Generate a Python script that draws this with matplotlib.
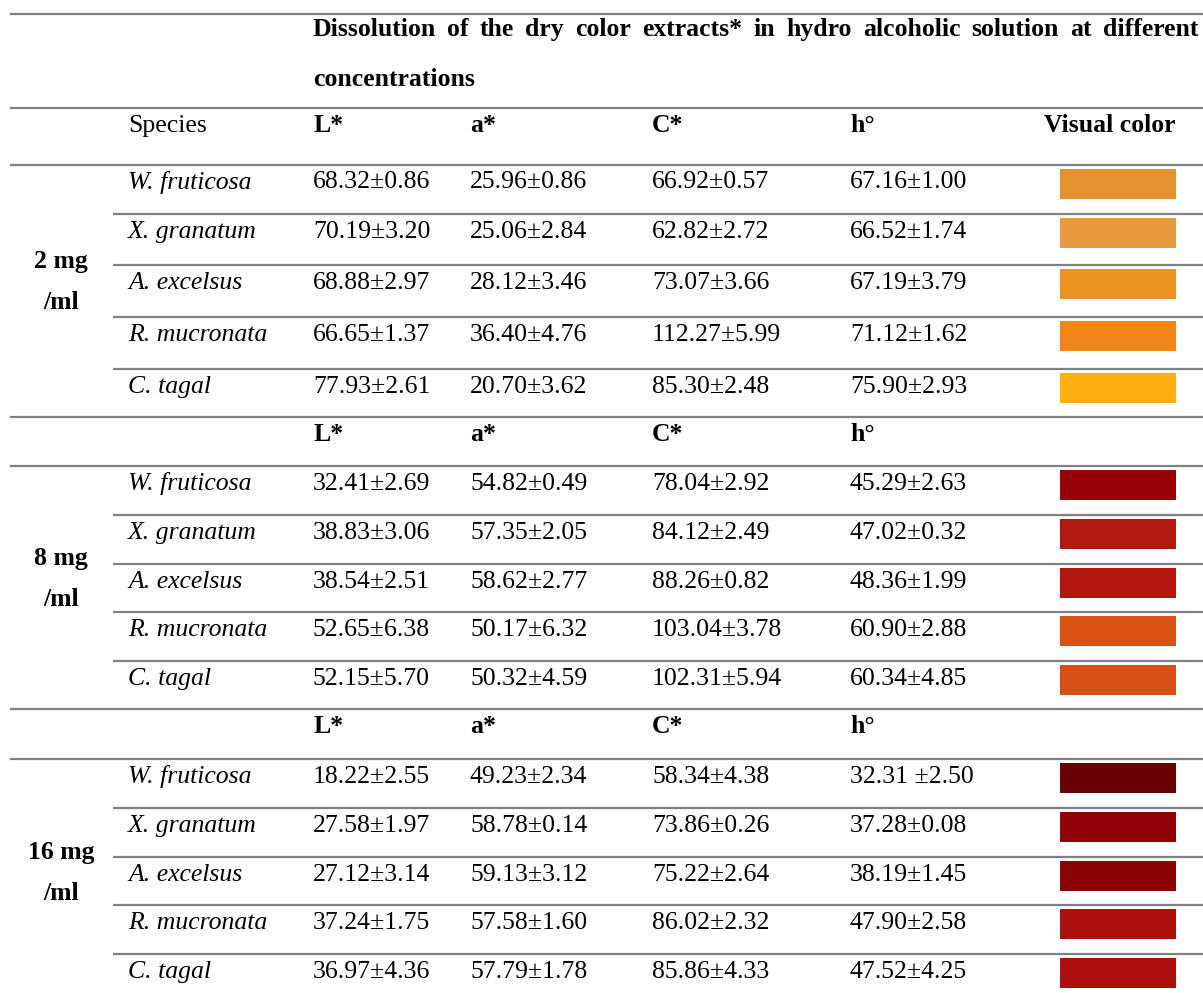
import matplotlib
matplotlib.use("Agg")
import matplotlib.pyplot as plt
from matplotlib.patches import Rectangle

# ---------------- data ----------------
title_line1 = "Dissolution of the dry color extracts* in hydro alcoholic solution at different"
title_line2 = "concentrations"
col_headers = ["L*", "a*", "C*", "h°"]
species = ["W. fruticosa", "X. granatum", "A. excelsus", "R. mucronata", "C. tagal"]
concentrations = ["2 mg\n/ml", "8 mg\n/ml", "16 mg\n/ml"]

L_2 = ["68.32±0.86", "70.19±3.20", "68.88±2.97", "66.65±1.37", "77.93±2.61"]
a_2 = ["25.96±0.86", "25.06±2.84", "28.12±3.46", "36.40±4.76", "20.70±3.62"]
C_2 = ["66.92±0.57", "62.82±2.72", "73.07±3.66", "112.27±5.99", "85.30±2.48"]
h_2 = ["67.16±1.00", "66.52±1.74", "67.19±3.79", "71.12±1.62", "75.90±2.93"]
col_2 = ["#E4922F", "#E89A3D", "#EA9322", "#F28518", "#FEB013"]

L_8 = ["32.41±2.69", "38.83±3.06", "38.54±2.51", "52.65±6.38", "52.15±5.70"]
a_8 = ["54.82±0.49", "57.35±2.05", "58.62±2.77", "50.17±6.32", "50.32±4.59"]
C_8 = ["78.04±2.92", "84.12±2.49", "88.26±0.82", "103.04±3.78", "102.31±5.94"]
h_8 = ["45.29±2.63", "47.02±0.32", "48.36±1.99", "60.90±2.88", "60.34±4.85"]
col_8 = ["#9A020A", "#B11A0E", "#B5160E", "#D95214", "#D54F16"]

L_16 = ["18.22±2.55", "27.58±1.97", "27.12±3.14", "37.24±1.75", "36.97±4.36"]
a_16 = ["49.23±2.34", "58.78±0.14", "59.13±3.12", "57.58±1.60", "57.79±1.78"]
C_16 = ["58.34±4.38", "73.86±0.26", "75.22±2.64", "86.02±2.32", "85.86±4.33"]
h_16 = ["32.31 ±2.50", "37.28±0.08", "38.19±1.45", "47.90±2.58", "47.52±4.25"]
col_16 = ["#690003", "#920309", "#8C0306", "#AE100E", "#AD100E"]

blocks = [
    (concentrations[0], [L_2, a_2, C_2, h_2], col_2),
    (concentrations[1], [L_8, a_8, C_8, h_8], col_8),
    (concentrations[2], [L_16, a_16, C_16, h_16], col_16),
]

# ---------------- layout ----------------
W, H = 1203, 993
fig = plt.figure(figsize=(W / 100, H / 100), dpi=100)
ax = fig.add_axes([0, 0, 1, 1])
ax.set_xlim(0, W)
ax.set_ylim(H, 0)
ax.axis("off")

FONT = ["Liberation Serif", "DejaVu Serif"]
FS = 18.5
LINE_C = "#808080"
LW = 1.6

x_left, x_inner, x_right = 10, 113, W
x_species = 128
x_cols = [313, 470, 652, 850]
sw_x0, sw_x1 = 1060, 1176
BASE = 24  # baseline offset below row line

def hline(y, x0):
    ax.plot([x0, x_right], [y, y], color=LINE_C, lw=LW, solid_capstyle="butt")

def txt(x, y, s, va="baseline", **kw):
    kw.setdefault("ha", "left")
    return ax.text(x, y, s, fontfamily=FONT, fontsize=FS, va=va, **kw)

# top section
hline(14, x_left)
# justified title line 1
words = title_line1.split(" ")
renderer = fig.canvas.get_renderer()
objs = [txt(0, 36, w, fontweight="bold") for w in words]
widths = [o.get_window_extent(renderer=renderer).width for o in objs]
x_end = 1198
gap = (x_end - x_cols[0] - sum(widths)) / (len(words) - 1)
xc = x_cols[0]
for o, wdt in zip(objs, widths):
    o.set_x(xc)
    xc += wdt + gap
txt(x_cols[0], 86, title_line2, fontweight="bold")
hline(108, x_left)
txt(x_species, 108 + BASE, "Species")
for x, h in zip(x_cols, col_headers):
    txt(x, 108 + BASE, h, fontweight="bold")
txt(1175, 108 + BASE, "Visual color", fontweight="bold", ha="right")

# row top edges for each block (layout)
block_rows = [
    [164.5, 214, 265, 317, 369],
    [466, 515, 564, 612, 661],
    [759, 808, 857, 905, 954],
]
block_ends = [417, 709, 1003]
header_rows = [None, 417, 709]

for bi, (label, cols, colors) in enumerate(blocks):
    rows = block_rows[bi]
    if header_rows[bi] is not None:
        hy = header_rows[bi]
        hline(hy, x_left)
        for x, h in zip(x_cols, col_headers):
            txt(x, hy + BASE, h, fontweight="bold")
    for ri, y in enumerate(rows):
        hline(y, x_left if ri == 0 else x_inner)
        txt(x_species, y + BASE, species[ri], fontstyle="italic")
        for x, vals in zip(x_cols, cols):
            txt(x, y + BASE, vals[ri])
        ax.add_patch(Rectangle((sw_x0, y + 4), sw_x1 - sw_x0, 30,
                               facecolor=colors[ri], edgecolor="none"))
    center = (rows[0] + block_ends[bi]) / 2
    l1, l2 = label.split("\n")
    txt(61, center - 29, l1, va="center", fontweight="bold", ha="center")
    txt(61, center + 12, l2, va="center", fontweight="bold", ha="center")

fig.savefig("out.png", dpi=100)
